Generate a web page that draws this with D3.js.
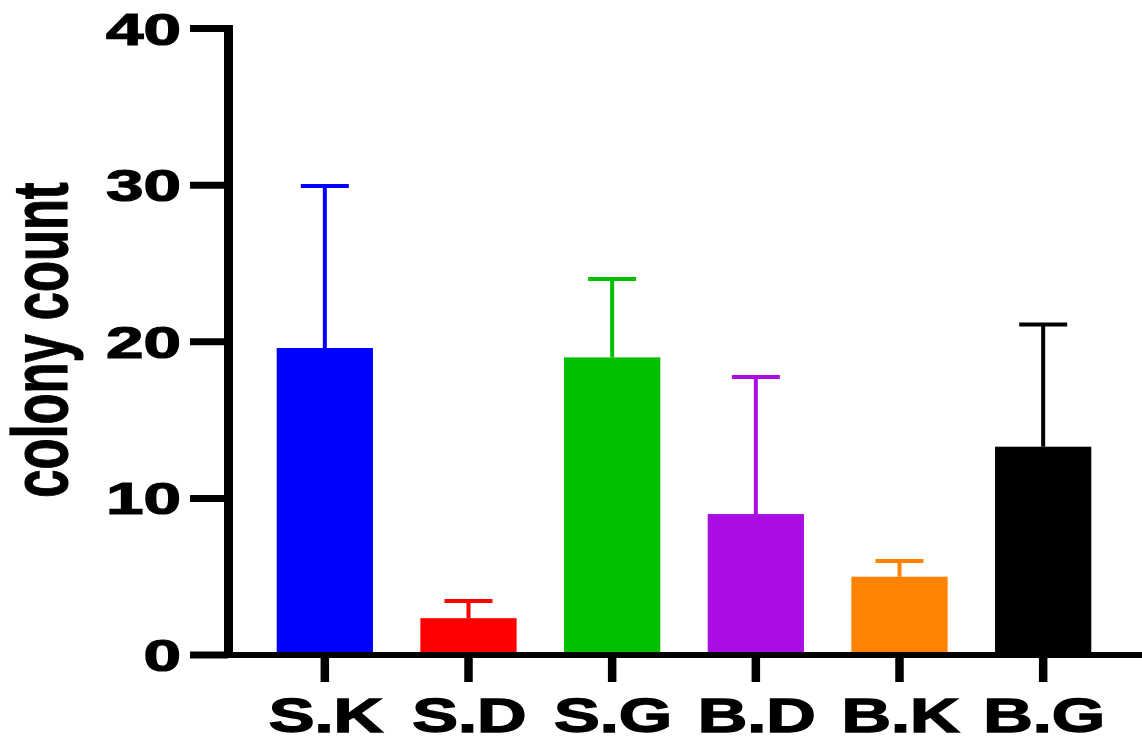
<!DOCTYPE html>
<html><head><meta charset="utf-8">
<script src="https://cdn.jsdelivr.net/npm/d3@7"></script>
<style>html,body{margin:0;padding:0;background:#fff;overflow:hidden}</style>
</head><body>
<svg id="chart" width="1142" height="739"></svg>
<script>
const categories = ["S.K","S.D","S.G","B.D","B.K","B.G"];
const means = [19.6, 2.35, 19.0, 9.0, 5.0, 13.3];
const errors = [10.35, 1.1, 5.0, 8.75, 1.0, 7.8];
const colors = ["#0000ff","#ff0000","#00c000","#a90de2","#ff8300","#000000"];
const yTicks = [0,10,20,30,40];
const yTitle = "colony count";

const svg = d3.select("#chart");
const x = d3.scaleBand().domain(categories).range([253, 1115]).paddingInner(0.33).paddingOuter(0.165);
const y = d3.scaleLinear().domain([0,40]).range([655, 28.5]);
const font = "'Liberation Sans', Arial, sans-serif";

// stretch helper: widen/narrow text via textLength
function stretch(sel, factor) {
  sel.each(function() {
    const w = this.getComputedTextLength();
    d3.select(this).attr("textLength", w * factor).attr("lengthAdjust", "spacingAndGlyphs");
  });
}

// bars
svg.selectAll("rect.bar").data(categories).join("rect")
  .attr("x", d => x(d)).attr("width", x.bandwidth())
  .attr("y", (d,i) => y(means[i])).attr("height", (d,i) => y(0) - y(means[i]))
  .attr("fill", (d,i) => colors[i]);

// error bars
const eb = svg.selectAll("g.err").data(categories).join("g");
eb.append("line")
  .attr("x1", d => x(d) + x.bandwidth()/2).attr("x2", d => x(d) + x.bandwidth()/2)
  .attr("y1", (d,i) => y(means[i])).attr("y2", (d,i) => y(means[i] + errors[i]))
  .attr("stroke", (d,i) => colors[i]).attr("stroke-width", 4);
eb.append("line")
  .attr("x1", d => x(d) + x.bandwidth()/2 - 24).attr("x2", d => x(d) + x.bandwidth()/2 + 24)
  .attr("y1", (d,i) => y(means[i] + errors[i])).attr("y2", (d,i) => y(means[i] + errors[i]))
  .attr("stroke", (d,i) => colors[i]).attr("stroke-width", 4);

// axes
svg.append("line").attr("x1", 190).attr("x2", 1142).attr("y1", y(0)).attr("y2", y(0))
  .attr("stroke", "#000").attr("stroke-width", 6);
svg.append("line").attr("x1", 228.5).attr("x2", 228.5).attr("y1", 25).attr("y2", 658)
  .attr("stroke", "#000").attr("stroke-width", 9);

// y ticks
svg.selectAll("line.yt").data(yTicks).join("line")
  .attr("x1", 190).attr("x2", 228).attr("y1", d => y(d)).attr("y2", d => y(d))
  .attr("stroke", "#000").attr("stroke-width", 7);
svg.selectAll("text.ytl").data(yTicks).join("text")
  .attr("x", 181).attr("y", d => y(d) + 16)
  .text(d => d)
  .attr("text-anchor", "end").attr("font-family", font).attr("font-weight", "bold")
  .attr("font-size", 45).attr("fill", "#000").attr("stroke", "#000").attr("stroke-width", 1.2)
  .call(stretch, 1.5);

// x ticks
svg.selectAll("line.xt").data(categories).join("line")
  .attr("x1", d => x(d) + x.bandwidth()/2).attr("x2", d => x(d) + x.bandwidth()/2)
  .attr("y1", y(0)).attr("y2", 682)
  .attr("stroke", "#000").attr("stroke-width", 8.5);
svg.selectAll("text.xtl").data(categories).join("text")
  .attr("x", d => x(d) + x.bandwidth()/2 + 1).attr("y", 732)
  .text(d => d)
  .attr("text-anchor", "middle").attr("font-family", font).attr("font-weight", "bold")
  .attr("font-size", 49).attr("fill", "#000").attr("stroke", "#000").attr("stroke-width", 1.4)
  .call(stretch, 1.4);

// y title
svg.append("text").attr("transform", "translate(67,340) rotate(-90)")
  .text(yTitle)
  .attr("text-anchor", "middle").attr("font-family", font).attr("font-weight", "bold")
  .attr("font-size", 78).attr("fill", "#000").attr("stroke", "#000").attr("stroke-width", 1.2)
  .call(stretch, 0.65);
</script>
</body></html>
